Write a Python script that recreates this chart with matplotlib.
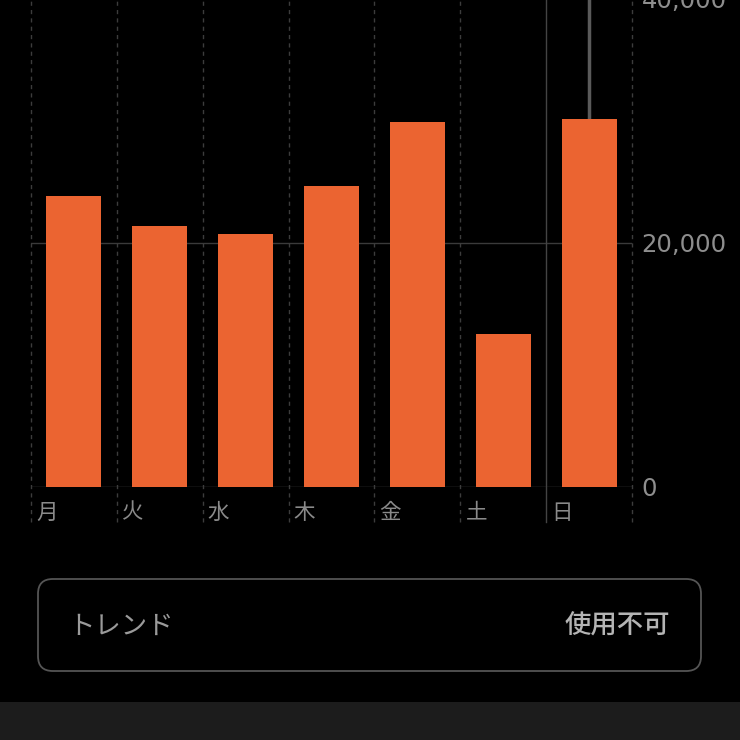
import matplotlib
matplotlib.use("Agg")
import matplotlib.pyplot as plt
from matplotlib.patches import FancyBboxPatch, Rectangle

plt.rcParams['font.family'] = ['Noto Sans CJK JP', 'DejaVu Sans']

days = ['月', '火', '水', '木', '金', '土', '日']
steps = [23850, 21400, 20750, 24650, 29900, 12550, 30150]
yticks = [0, 20000, 40000]
selected = 6

BG = '#000000'
BAR = '#EB6431'
GRID = '#3a3a3a'
LABEL = '#8a8a8a'

W = H = 740
fig = plt.figure(figsize=(7.4, 7.4), dpi=100, facecolor=BG)

# chart area: x 31..632 px, baseline at y=487, 40,000 at y=-1
ax = fig.add_axes([31 / W, (H - 487) / H, (632 - 31) / W, 488 / H])
ax.set_facecolor(BG)
ax.set_xlim(0, len(days))
ax.set_ylim(0, 40000)
for s in ax.spines.values():
    s.set_visible(False)

# horizontal grid lines
for v in yticks:
    ax.axhline(v, color='#4a4a4a' if v == 0 else GRID, lw=1, zorder=1)

# vertical column separators (dashed), 日 column solid
for i in range(len(days) + 1):
    ls = '-' if i == selected else (0, (3, 3))
    ax.plot([i, i], [-2900, 40000], color='#444444' if i == selected else '#3c3c3c',
            lw=1, ls=ls, clip_on=False, zorder=1)

# selection line above 日 bar
ax.plot([selected + 0.5, selected + 0.5], [steps[selected], 40000],
        color='#5a5a5a', lw=2.5, zorder=2)

ax.bar([i + 0.5 for i in range(len(days))], steps, width=0.64,
       color=BAR, zorder=3)

ax.set_xticks([])
ax.yaxis.tick_right()
ax.set_yticks(yticks)
ax.set_yticklabels([f'{v:,}' for v in yticks])
ax.tick_params(axis='y', length=0, pad=7, labelsize=17.5, labelcolor='#8e8e8e')
for lab in ax.get_yticklabels():
    lab.set_family(['DejaVu Sans'])

for i, d in enumerate(days):
    ax.text(i + 0.06, -2100, d, ha='left', va='center', fontsize=15.5,
            color=LABEL, clip_on=False)

# trend box
box = FancyBboxPatch((38 / W, 1 - 671 / H), (701 - 38) / W, (671 - 579) / H,
                     boxstyle='round,pad=0,rounding_size=0.02',
                     transform=fig.transFigure, facecolor=BG,
                     edgecolor='#555555', lw=1.3)
fig.add_artist(box)
fig.text(68 / W, 1 - 626 / H, 'トレンド', ha='left', va='center',
         fontsize=19, color='#9a9a9a')
fig.text(670 / W, 1 - 626 / H, '使用不可', ha='right', va='center',
         fontsize=19, color='#b4b4b4', fontweight='medium')

# bottom strip
fig.add_artist(Rectangle((0, 0), 1, 38 / H, transform=fig.transFigure,
                         facecolor='#1c1c1c', edgecolor='none'))

fig.savefig('out.png', dpi=100, facecolor=BG)
